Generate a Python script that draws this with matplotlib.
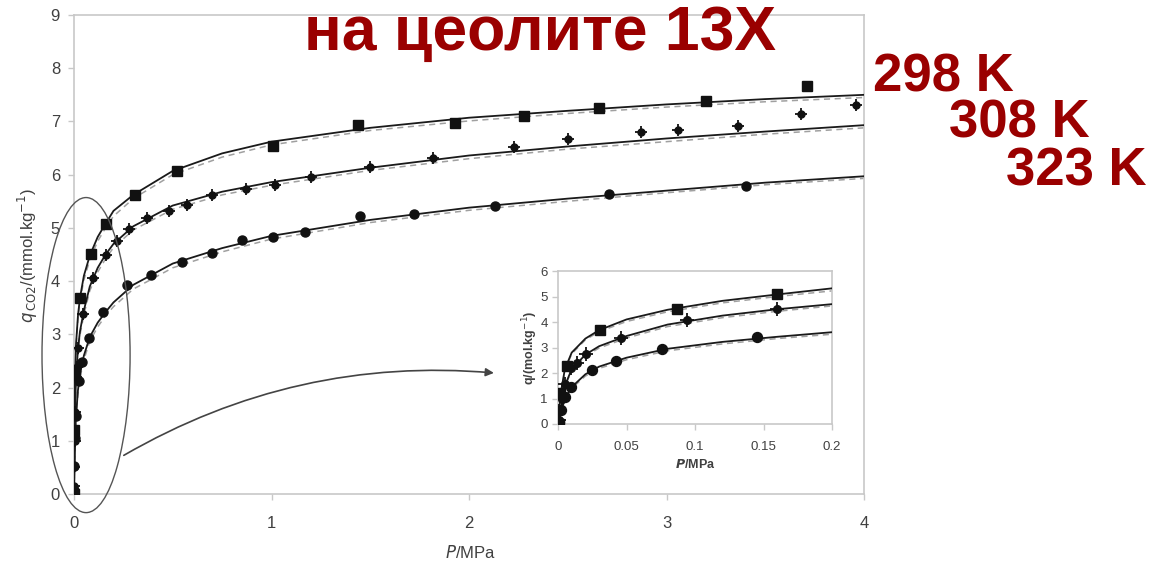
import matplotlib
matplotlib.use("Agg")
import matplotlib.pyplot as plt
from matplotlib.patches import Ellipse, FancyArrowPatch

plt.rcParams['font.family'] = ['Liberation Sans', 'DejaVu Sans']

# measured points, P in MPa, q in mmol/kg
p298 = [0.0005, 0.0012, 0.0066, 0.0305, 0.087, 0.16, 0.31, 0.52, 1.01, 1.44, 1.93, 2.28, 2.66, 3.2, 3.71]
q298 = [0.0, 1.2, 2.28, 3.68, 4.51, 5.08, 5.62, 6.06, 6.54, 6.93, 6.98, 7.1, 7.26, 7.39, 7.67]

p308 = [0.0005, 0.001, 0.003, 0.005, 0.0098, 0.0139, 0.0207, 0.046, 0.094, 0.16, 0.22, 0.28, 0.37,
        0.48, 0.57, 0.70, 0.87, 1.02, 1.2, 1.5, 1.82, 2.23, 2.5, 2.87, 3.06, 3.36, 3.68, 3.96]
q308 = [0.15, 0.5, 1.0, 1.55, 2.19, 2.39, 2.75, 3.39, 4.06, 4.5, 4.76, 4.98, 5.19,
        5.32, 5.43, 5.62, 5.73, 5.81, 5.96, 6.15, 6.32, 6.52, 6.67, 6.8, 6.84, 6.92, 7.14, 7.31]

p323 = [0.001, 0.002, 0.005, 0.0098, 0.025, 0.042, 0.076, 0.145, 0.27, 0.39, 0.545, 0.70,
        0.85, 1.01, 1.17, 1.45, 1.72, 2.13, 2.71, 3.4]
q323 = [0.07, 0.53, 1.06, 1.46, 2.12, 2.48, 2.93, 3.42, 3.93, 4.12, 4.35, 4.53,
        4.77, 4.83, 4.92, 5.22, 5.26, 5.41, 5.64, 5.79]

# fitted isotherms (solid = model 1, grey dashed = model 2)
pfit = [0, 0.001, 0.002, 0.005, 0.01, 0.02, 0.03, 0.05, 0.08, 0.12, 0.16, 0.2, 0.3, 0.5,
        0.75, 1.0, 1.5, 2.0, 2.5, 3.0, 3.5, 4.0]
fit298 = [0, 0.6, 1.2, 2.15, 2.8, 3.35, 3.68, 4.1, 4.48, 4.83, 5.08, 5.32, 5.62, 6.07,
          6.4, 6.62, 6.88, 7.07, 7.2, 7.32, 7.42, 7.5]
fit308 = [0, 0.3, 0.6, 1.5, 2.15, 2.72, 3.05, 3.45, 3.9, 4.25, 4.5, 4.7, 5.03, 5.42,
          5.68, 5.86, 6.13, 6.36, 6.53, 6.68, 6.81, 6.93]
fit323 = [0, 0.15, 0.4, 1.0, 1.45, 1.95, 2.25, 2.6, 2.95, 3.22, 3.42, 3.6, 3.93, 4.33,
          4.62, 4.85, 5.15, 5.38, 5.55, 5.7, 5.85, 5.97]
dash298 = [0, 0.6, 1.2, 2.1, 2.75, 3.3, 3.62, 4.02, 4.4, 4.75, 5.0, 5.22, 5.55, 6.0,
           6.33, 6.56, 6.83, 7.01, 7.15, 7.27, 7.37, 7.45]
dash308 = [0, 0.3, 0.6, 1.45, 2.1, 2.66, 2.98, 3.37, 3.82, 4.17, 4.42, 4.63, 4.96, 5.35,
           5.62, 5.8, 6.08, 6.3, 6.48, 6.62, 6.76, 6.88]
dash323 = [0, 0.15, 0.4, 0.95, 1.4, 1.88, 2.18, 2.52, 2.87, 3.14, 3.35, 3.52, 3.85, 4.25,
           4.55, 4.79, 5.1, 5.33, 5.5, 5.66, 5.81, 5.93]

TITLE = "на цеолите 13X"
TEMPS = ["298 K", "308 K", "323 K"]
RED = "#9a0000"
GRID = "#c8c8c8"
TXT = "#404040"

fig = plt.figure(figsize=(11.57, 5.66), dpi=100)
ax = fig.add_axes([74/1157, 72/566, 790/1157, 479/566])


def draw_series(a, ms_scale=1.0):
    for fit, dash in [(fit298, dash298), (fit308, dash308), (fit323, dash323)]:
        a.plot(pfit, dash, color="#a0a0a0", lw=1.1, ls=(0, (4, 3)), zorder=2)
        a.plot(pfit, fit, color="#1a1a1a", lw=1.3, zorder=3)
    a.plot(p298, q298, ls="none", marker="s", ms=7*ms_scale, color="#111111", zorder=4)
    a.plot(p308, q308, ls="none", marker="o", ms=5*ms_scale, color="#111111", zorder=4)
    a.plot(p308, q308, ls="none", marker="+", ms=9*ms_scale, mew=1.3, color="#111111", zorder=4)
    a.plot(p323, q323, ls="none", marker="o", ms=6.5*ms_scale, color="#111111", zorder=4)


def style_axes(a, fs):
    for s in a.spines.values():
        s.set_color(GRID)
        s.set_linewidth(1.2)
    a.tick_params(colors=GRID, labelcolor=TXT, labelsize=fs, length=4, width=1)


draw_series(ax)
ax.set_xlim(0, 4)
ax.set_ylim(0, 9)
ax.set_xticks([0, 1, 2, 3, 4])
ax.set_yticks(range(0, 10))
style_axes(ax, 12)
ax.tick_params(axis="x", pad=12)
ax.tick_params(axis="y", pad=6)

fig.text(470/1157, 1 - 553/566, r"$P$/MPa", ha="center", va="center", fontsize=12, color=TXT)
fig.text(28/1157, 1 - 256/566, r"$q_{\,\mathrm{CO2}}$/(mmol.kg$^{-1}$)", rotation=90,
         ha="center", va="center", fontsize=12, color=TXT)

# ellipse around the low-pressure region and arrow to the inset
ell = Ellipse((0.061, 2.61), 0.446, 5.92, fill=False, ec="#555555", lw=1.0,
              clip_on=False, zorder=5)
ax.add_patch(ell)
arr = FancyArrowPatch((0.24, 0.70), (2.14, 2.27), connectionstyle="arc3,rad=-0.16",
                      arrowstyle="-|>", mutation_scale=12, color="#444444", lw=1.2,
                      clip_on=False, zorder=5)
ax.add_patch(arr)

# inset
ins = fig.add_axes([558/1157, 142/566, 274/1157, 153/566])
draw_series(ins, ms_scale=1.1)
ins.set_xlim(0, 0.2)
ins.set_ylim(0, 6)
ins.set_xticks([0, 0.05, 0.1, 0.15, 0.2])
ins.set_xticklabels(["0", "0.05", "0.1", "0.15", "0.2"])
ins.set_yticks(range(0, 7))
style_axes(ins, 9.5)
ins.tick_params(axis="x", pad=8)
ins.set_xlabel(r"$\boldsymbol{P}$/MPa", fontsize=9, fontweight="bold", color=TXT, labelpad=4)
fig.text(530/1157, 1 - 348/566, r"q/(mol.kg$^{-1}$)", rotation=90, ha="center", va="center",
         fontsize=9, fontweight="bold", color=TXT)

# red captions
fig.text(540/1157, 1 - 50/566, TITLE, ha="center", va="baseline", fontsize=45,
         fontweight="bold", color=RED)
fig.text(873/1157, 1 - 92/566, TEMPS[0], ha="left", va="baseline", fontsize=38,
         fontweight="bold", color=RED)
fig.text(949/1157, 1 - 138/566, TEMPS[1], ha="left", va="baseline", fontsize=38,
         fontweight="bold", color=RED)
fig.text(1006/1157, 1 - 185/566, TEMPS[2], ha="left", va="baseline", fontsize=38,
         fontweight="bold", color=RED)

fig.savefig("out.png", dpi=100)
